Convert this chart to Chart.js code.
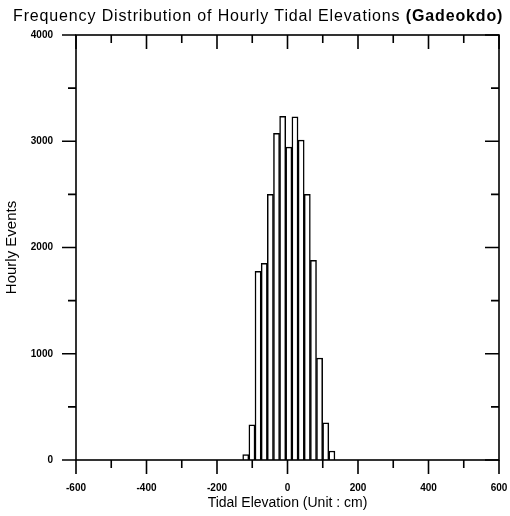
<!DOCTYPE html>
<html><head><meta charset="utf-8">
<script src="https://cdn.jsdelivr.net/npm/chart.js@4.4.1/dist/chart.umd.min.js"></script>
<style>html,body{margin:0;padding:0;background:#fff;}#wrap{position:relative;width:510px;height:516px;}</style>
</head><body><div id="wrap"><canvas id="c" width="510" height="516"></canvas></div>
<script>
const titleMain = 'Frequency Distribution of Hourly Tidal Elevations ';
const titleStation = '(Gadeokdo)';
const xAxisTitle = 'Tidal Elevation (Unit : cm)';
const yAxisTitle = 'Hourly Events';
const binCenters = [-118.4, -100.9, -83.5, -66.0, -48.6, -31.1, -13.7, 3.8, 21.2, 38.7, 56.1, 73.6, 91.0, 108.5, 125.9];
const hourlyEvents = [50, 330, 1775, 1850, 2500, 3075, 3235, 2945, 3230, 3010, 2500, 1880, 960, 350, 85];
const xTickLabels = [-600, -400, -200, 0, 200, 400, 600];
const yTickLabels = [0, 1000, 2000, 3000, 4000];

const FONT = '"Liberation Sans", Arial, Helvetica, sans-serif';

const titlePlugin = {
  id: 'mixedTitle',
  afterDraw(chart) {
    const ctx = chart.ctx;
    ctx.save();
    ctx.fillStyle = '#000';
    ctx.textBaseline = 'alphabetic';
    const target = 490;
    ctx.font = '16px ' + FONT;
    const w1 = ctx.measureText(titleMain).width;
    ctx.font = 'bold 16px ' + FONT;
    const w2 = ctx.measureText(titleStation).width;
    const n = titleMain.length + titleStation.length;
    const ls = Math.max(0, (target - w1 - w2) / n);
    ctx.letterSpacing = ls.toFixed(2) + 'px';
    ctx.font = '16px ' + FONT;
    const x0 = 13;
    ctx.fillText(titleMain, x0, 21);
    const m1 = ctx.measureText(titleMain).width;
    ctx.font = 'bold 16px ' + FONT;
    ctx.fillText(titleStation, x0 + m1, 21);
    ctx.restore();
  }
};

const frameTicks = {
  id: 'frameTicks',
  afterDatasetsDraw(chart) {
    const {ctx, chartArea: a, scales: {x, y}} = chart;
    ctx.save();
    ctx.strokeStyle = '#000';
    ctx.lineWidth = 1.6;
    ctx.strokeRect(a.left, a.top, a.right - a.left, a.bottom - a.top);
    ctx.beginPath();
    x.ticks.forEach(t => {
      const px = x.getPixelForValue(t.value);
      const L = xTickLabels.includes(t.value) ? 14 : 8;
      ctx.moveTo(px, a.bottom); ctx.lineTo(px, a.bottom + L);
      ctx.moveTo(px, a.top); ctx.lineTo(px, a.top + L);
    });
    y.ticks.forEach(t => {
      const py = y.getPixelForValue(t.value);
      const L = yTickLabels.includes(t.value) ? 14 : 8;
      ctx.moveTo(a.left, py); ctx.lineTo(a.left - L, py);
      ctx.moveTo(a.right, py); ctx.lineTo(a.right - L, py);
    });
    ctx.stroke();
    ctx.restore();
  }
};

new Chart(document.getElementById('c'), {
  type: 'bar',
  data: {
    datasets: [{
      data: binCenters.map((c, i) => ({x: c, y: hourlyEvents[i]})),
      backgroundColor: '#ffffff',
      borderColor: '#000000',
      borderWidth: 1.5,
      barPercentage: 1,
      categoryPercentage: 1
    }]
  },
  options: {
    responsive: false,
    animation: false,
    layout: {padding: {top: 35, right: 11, left: 0, bottom: 0}},
    plugins: {legend: {display: false}, tooltip: {enabled: false}, title: {display: false}},
    scales: {
      x: {
        type: 'linear', min: -600, max: 600, offset: false,
        grid: {display: false, drawTicks: false, offset: false},
        border: {display: false},
        ticks: {
          stepSize: 100, autoSkip: false, maxRotation: 0, padding: 22,
          color: '#000', font: {family: FONT, size: 10, weight: 'bold'},
          callback: v => xTickLabels.includes(v) ? String(v) : ''
        },
        title: {display: true, text: xAxisTitle, color: '#000', font: {family: FONT, size: 14}, padding: {top: 2, bottom: 4}},
        afterFit(s) { s.height = 56; s.paddingLeft = 0; s.paddingRight = 0; }
      },
      y: {
        min: 0, max: 4000,
        grid: {display: false, drawTicks: false},
        border: {display: false},
        ticks: {
          stepSize: 500, autoSkip: false, padding: 23,
          color: '#000', font: {family: FONT, size: 10, weight: 'bold'},
          callback: v => yTickLabels.includes(v) ? String(v) : ''
        },
        title: {display: true, text: yAxisTitle, color: '#000', font: {family: FONT, size: 15}, padding: {top: 3, bottom: 2}},
        afterFit(s) { s.width = 76; s.paddingTop = 0; s.paddingBottom = 0; }
      }
    }
  },
  plugins: [frameTicks, titlePlugin]
});
</script>
</body></html>
